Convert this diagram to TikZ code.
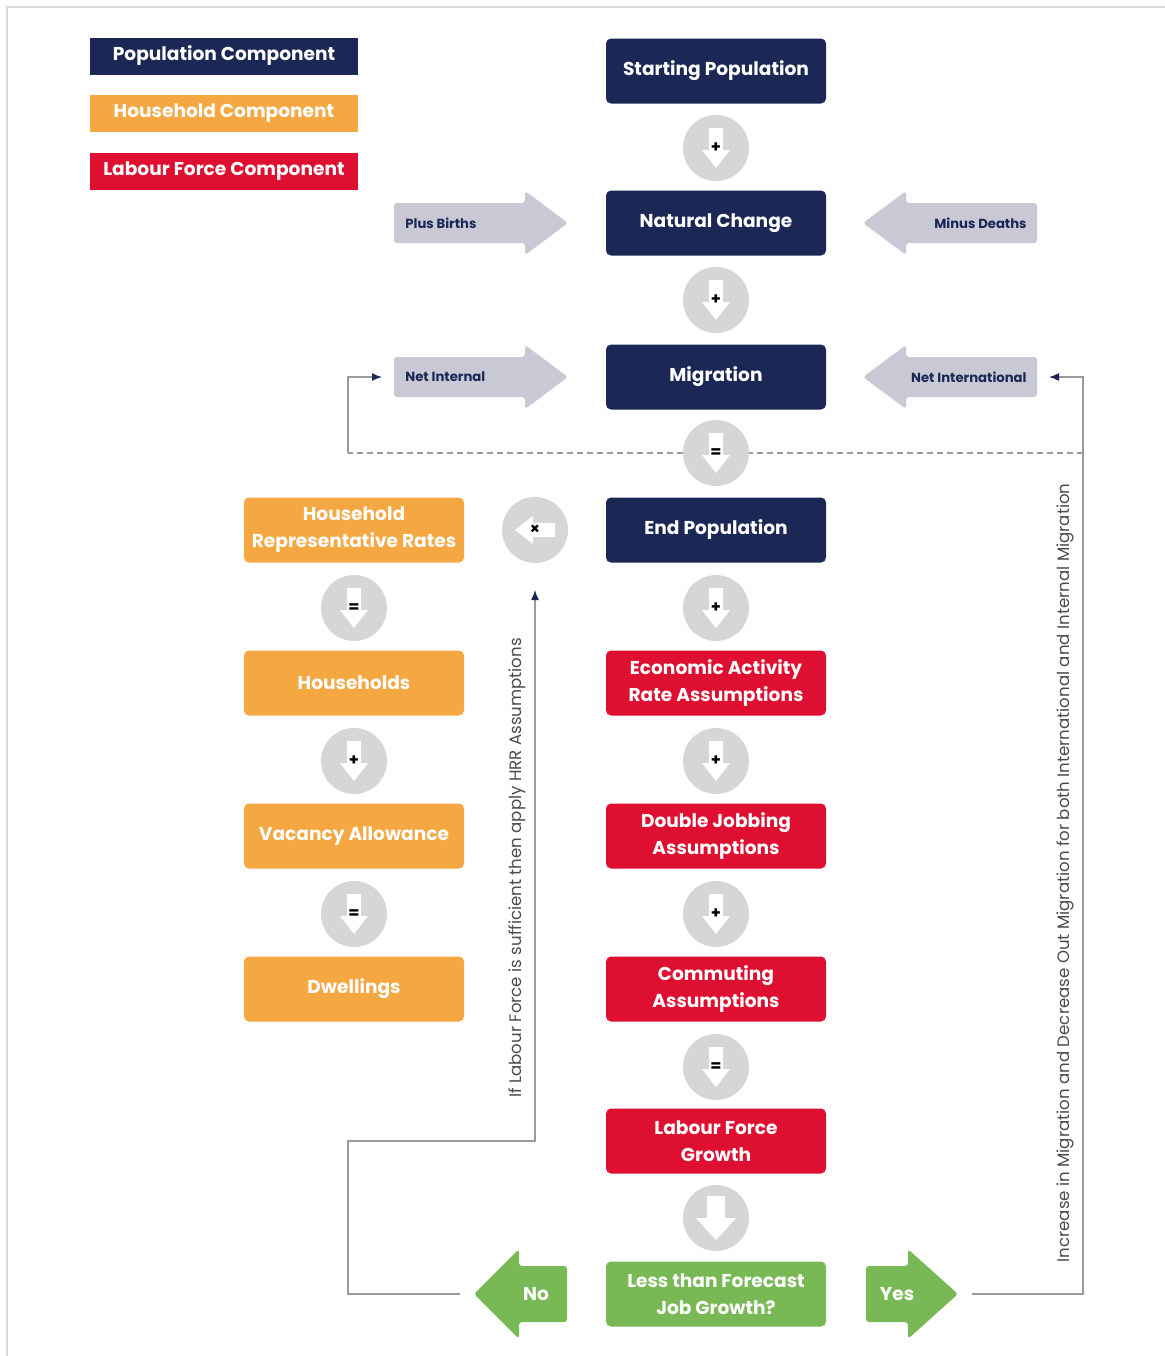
\documentclass[tikz,border=0pt]{standalone}
\usepackage{fontspec}
\setmainfont{Poppins}
\usetikzlibrary{arrows.meta}
\definecolor{popblue}{HTML}{1B2856}
\definecolor{hhorange}{HTML}{F5A742}
\definecolor{lfred}{HTML}{DE0F30}
\definecolor{decgreen}{HTML}{78B955}
\definecolor{stepgray}{HTML}{D6D6D6}
\definecolor{sidegray}{HTML}{C9C9D5}
\definecolor{linkgray}{HTML}{9A9A9A}
\definecolor{framegray}{HTML}{DADADA}
\tikzset{
  box/.style={rounded corners=2.5pt,minimum width=110pt,minimum height=32.5pt,
    inner xsep=2pt,align=center,text=white,font=\fontsize{9.3}{13.5}\selectfont\bfseries},
  popbox/.style={box,fill=popblue},
  hhbox/.style={box,fill=hhorange},
  lfbox/.style={box,fill=lfred},
  decbox/.style={box,fill=decgreen},
  legendbox/.style={minimum width=134pt,minimum height=18.5pt,text=white,
    font=\fontsize{9.3}{11}\selectfont\bfseries},
  stepcirc/.style={circle,fill=stepgray,minimum size=33pt,inner sep=0pt},
  steptext/.style={font=\fontsize{8}{8}\selectfont\bfseries,text=black,inner sep=0pt},
  sidetext/.style={font=\fontsize{6.6}{7}\selectfont\bfseries,text=popblue,inner sep=0pt},
  arrowtext/.style={font=\fontsize{9.3}{10}\selectfont\bfseries,text=white,inner sep=0pt},
  link/.style={linkgray,line width=0.7pt},
  linktip/.style={-{Latex[length=5pt,width=4pt,color=popblue]}},
  note/.style={rotate=90,text=black!70,font=\fontsize{8.3}{9}\selectfont},
}
% grey step circle with a white arrow inside
\newcommand{\flowstep}[5]{%
  \node[stepcirc] (#1) at (#2,#3) {};
  \begin{scope}[shift={(#2,#3)},rotate=#4]
    \fill[white] (-7,-20) -- (7,-20) -- (7,2) -- (14,2) -- (0,20) -- (-14,2) -- (-7,2) -- cycle;
  \end{scope}
  \node[steptext] at (#2,#3) {#5};
}
% block arrow: name, colour, tail x, y, direction, length, head length, half body
\newcommand{\blockarrow}[8]{%
  \fill[#2,rounded corners=1.5pt]
    (#3,{#4-#8}) -- ({#3+#5*#6-#5*#7},{#4-#8}) -- ({#3+#5*#6-#5*#7},{#4-1.6*#8})
    -- ({#3+#5*#6},#4) -- ({#3+#5*#6-#5*#7},{#4+1.6*#8})
    -- ({#3+#5*#6-#5*#7},{#4+#8}) -- (#3,{#4+#8}) -- cycle;
  \coordinate (#1-tail) at (#3,#4);
  \coordinate (#1-tip) at ({#3+#5*#6},#4);
}

\begin{document}
\begin{tikzpicture}[x=0.5pt,y=-0.5pt]
  \fill[white] (0,0) rectangle (1165,1356);
  \useasboundingbox (0,0) rectangle (1165,1356);
  \draw[framegray,line width=1.2pt] (7,1356) -- (7,7) -- (1165,7);

  % LEGEND
  \node[legendbox,fill=popblue] (legpop) at (224,56) {Population Component};
  \node[legendbox,fill=hhorange] (leghh) at (224,113) {Household Component};
  \node[legendbox,fill=lfred] (leglf) at (224,171) {Labour Force Component};

  % SIDE ARROWS
  \blockarrow{births}{sidegray}{394}{223}{1}{174}{43}{20}
  \node[sidetext,anchor=west] (birthstext) at (405,223) {Plus Births};
  \blockarrow{deaths}{sidegray}{1037}{223}{-1}{174}{43}{20}
  \node[sidetext,anchor=east] (deathstext) at (1027,223) {Minus Deaths};
  \blockarrow{int}{sidegray}{394}{377}{1}{174}{43}{20}
  \node[sidetext,anchor=west] (inttext) at (405,377) {Net Internal};
  \blockarrow{intl}{sidegray}{1037}{377}{-1}{174}{43}{20}
  \node[sidetext,anchor=east] (intltext) at (1027,377) {Net International};

  % DECISION ARROWS
  \blockarrow{noarr}{decgreen}{567}{1294}{-1}{93}{45}{28}
  \node[arrowtext] (no) at (536,1294) {No};
  \blockarrow{yesarr}{decgreen}{866}{1294}{1}{92}{50}{28}
  \node[arrowtext] (yes) at (897,1294) {Yes};

  % LOOPS
  \coordinate (nobend) at (348,1141);
  \coordinate (hrrin) at (535,590);
  \coordinate (loopR) at (1083,453);
  \coordinate (loopL) at (348,453);
  \draw[link,linktip] ([xshift=-7pt]noarr-tip) -| (nobend) -| (hrrin);
  \draw[link,linktip] ([xshift=7pt]yesarr-tip) -| ([xshift=23pt]intl-tail) -- ([xshift=6pt]intl-tail);
  \draw[link,dash pattern=on 3pt off 2pt] (loopR) -- (loopL);
  \draw[link,linktip] (loopL) |- ([xshift=-6pt]int-tail);
  \node[note] (hrrnote) at (517,868) {If Labour Force is sufficient then apply HRR Assumptions};
  \node[note] (migrnote) at (1065,873) {Increase in Migration and Decrease Out Migration for both International and Internal Migration};

  % POPULATION
  \node[popbox] (start) at (716,71) {Starting Population};
  \node[popbox] (natural) at (716,223) {Natural Change};
  \node[popbox] (migr) at (716,377) {Migration};
  \node[popbox] (endpop) at (716,530) {End Population};

  % LABOUR FORCE
  \node[lfbox] (econ) at (716,683) {Economic Activity\\Rate Assumptions};
  \node[lfbox] (dbl) at (716,836) {Double Jobbing\\Assumptions};
  \node[lfbox] (commute) at (716,989) {Commuting\\Assumptions};
  \node[lfbox] (lfgrowth) at (716,1141) {Labour Force\\Growth};
  \node[decbox] (jobs) at (716,1294) {Less than Forecast\\Job Growth?};

  % HOUSEHOLDS
  \node[hhbox] (hrr) at (354,530) {Household\\Representative Rates};
  \node[hhbox] (hholds) at (354,683) {Households};
  \node[hhbox] (vacancy) at (354,836) {Vacancy Allowance};
  \node[hhbox] (dwell) at (354,989) {Dwellings};

  % STEPS
  \foreach \y/\s [count=\i] in {148/+,300/+,453/=,608/+,761/+,914/+,1067/=}
    \flowstep{step\i}{716}{\y}{0}{\s};
  \foreach \y/\s [count=\i] in {608/=,761/+,914/=}
    \flowstep{hstep\i}{354}{\y}{0}{\s};
  \flowstep{times}{535}{530}{-90}{×}
  \node[stepcirc] (jobstep) at (716,1218) {};
  \fill[white] (707,1196) -- (725,1196) -- (725,1218) -- (736,1218) -- (716,1240) -- (696,1218) -- (707,1218) -- cycle;
\end{tikzpicture}
\end{document}
